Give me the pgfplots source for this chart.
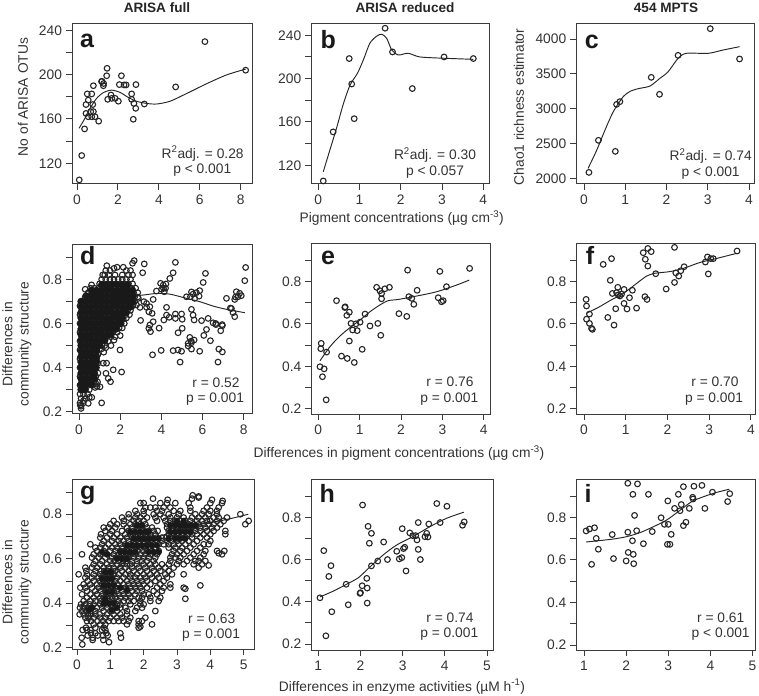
\documentclass[border=0pt]{standalone}
\usepackage{fontspec}
\setmainfont{Liberation Sans}
\usepackage{pgfplots}
\pgfplotsset{compat=1.18}
\definecolor{axc}{HTML}{3C3C3C}
\definecolor{txc}{HTML}{333333}
\definecolor{ptc}{HTML}{262626}
\pgfplotsset{panel/.style={scale only axis,anchor=south west,clip=false,
  axis line style={color=axc,line width=1pt},tick align=outside,tick pos=left,
  major tick length=6pt,tick style={color=axc,line width=.9pt},
  every tick label/.append style={font=\fontsize{13.8}{16}\selectfont,text=txc},
  xticklabel style={yshift=-1.5pt},yticklabel style={xshift=-.5pt},
 },
 yfrac/.style={ytick={.2,.3,.4,.5,.6,.7,.8,.9},yticklabels={0.2,,0.4,,0.6,,0.8,}},
 pts/.style={only marks,mark=o,mark size=2.85pt,mark options={draw=ptc,line width=1.1pt,fill=none,solid}},
 core/.style={only marks,mark=*,mark size=3.5pt,mark options={draw=black!90,fill=black!90,line width=.3pt,solid}},
 fit/.style={no markers,smooth,tension=.45,color=ptc,line width=.95pt}}
\newcommand\T[3]{\node[font=\fontsize{13.8}{16}\selectfont,text=txc,inner sep=0pt] at (#1pt,695pt-#2pt) {#3};}
\newcommand\Tr[3]{\node[font=\fontsize{13.8}{16}\selectfont,text=txc,inner sep=0pt,rotate=90] at (#1pt,695pt-#2pt) {#3};}
\newcommand\B[3]{\node[font=\fontsize{13.6}{16}\selectfont\bfseries,text=black!85,inner sep=0pt] at (#1pt,695pt-#2pt) {#3};}
\newcommand\Lt[3]{\node[font=\fontsize{25}{28}\selectfont\bfseries,text=black!90,inner sep=0pt,anchor=base] at (#1pt,695pt-#2pt) {#3};}
\begin{document}
\begin{tikzpicture}[x=1pt,y=1pt]
\useasboundingbox (0,0) rectangle (759,695);
% a
\begin{axis}[panel,at={(72pt,511pt)},width=180pt,height=160pt,xmin=-.244,xmax=8.55,ymin=101.3,ymax=245.7,
 xtick={0,2,4,6,8},xticklabels={0,2,4,6,8},ytick={120,140,160,180,200,220,240},yticklabels={120,,160,,200,,240}]
\addplot[pts] coordinates {(.11,105)(.23,127)(.37,151)(.5,182.6)(.72,182.6)(.8,190)(.44,173)(.55,177)(.77,173)(.44,165)(.55,162)(.67,166.6)(.8,166.6)(.72,162)(.88,162)(1.06,158)(1.2,193.7)(1.29,190)(1.22,194)(1.3,192)(1.45,199)(1.47,205.7)(1.5,177.7)(1.66,181.6)(1.7,178.6)(1.86,178.6)(2.02,176)(2.07,191)(2.17,199)(2.3,190.7)(2.4,190.7)(2.67,182.6)(2.67,177.7)(2.78,174)(2.87,169.6)(2.75,159.7)(2.88,191)(3.29,173.5)(4.82,188.9)(6.25,229.8)(8.24,204)};
\addplot[fit] coordinates {(.1,151.6)(.34,159)(.64,169.6)(.96,178.6)(1.29,183.8)(1.69,186)(2.1,184)(2.5,179.5)(2.9,176)(3.4,174)(3.9,173.5)(4.55,176)(5.36,183)(6.3,191.5)(7.3,199.7)(8.24,205)};
\end{axis}
% b
\begin{axis}[panel,at={(311.3pt,511pt)},width=177.7pt,height=160pt,xmin=-.17,xmax=4.14,ymin=102.7,ymax=250.4,
 xtick={0,1,2,3,4},xticklabels={0,1,2,3,4},ytick={120,140,160,180,200,220,240},yticklabels={120,,160,,200,,240}]
\addplot[pts] coordinates {(.12,105.5)(.36,150.8)(.75,218.5)(.81,195)(.87,163)(1.62,246.5)(1.8,224.6)(2.28,190.8)(3.05,220)(3.76,218.5)};
\addplot[fit] coordinates {(.12,114)(.28,134)(.44,154)(.61,177)(.77,194)(.95,205)(1.09,217)(1.25,232.6)(1.41,239)(1.54,241)(1.66,237)(1.78,226.5)(1.94,221.8)(2.18,223.4)(2.46,220)(3.03,218.8)(3.76,217.8)};
\end{axis}
% c
\begin{axis}[panel,at={(576.3pt,511pt)},width=177.7pt,height=160pt,xmin=-.186,xmax=4.12,ymin=1924,ymax=4215,
 xtick={0,1,2,3,4},xticklabels={0,1,2,3,4},ytick={2000,2500,3000,3500,4000},yticklabels={2000,2500,3000,3500,4000}]
\addplot[pts] coordinates {(.12,2090)(.35,2549)(.76,2391)(.79,3064)(.87,3103)(1.63,3451)(1.83,3208)(2.28,3766)(3.06,4148)(3.77,3714)};
\addplot[fit] coordinates {(.1,2148)(.31,2410)(.51,2697)(.71,2959)(.95,3174)(1.15,3260)(1.35,3293)(1.6,3327)(1.84,3437)(2.04,3532)(2.28,3723)(2.48,3795)(3.01,3795)(3.37,3842)(3.77,3890)};
\end{axis}
% d
\begin{axis}[panel,yfrac,at={(72pt,281.3pt)},width=180pt,height=169.4pt,xmin=-.34,xmax=8.4,ymin=.191,ymax=.959,
 xtick={0,2,4,6,8},xticklabels={0,2,4,6,8}]
\addplot[pts] coordinates {
(.1,.215)(.06,.23)(.1,.225)
(.05,.24)(.2,.24)(.45,.238)(.22,.25)(1.1,.24)
(.1,.26)(.3,.26)(.5,.265)(.62,.265)
(.05,.28)(.22,.28)(.42,.28)
(.13,.30)(.3,.30)(.5,.30)(.78,.31)(.88,.315)(1.02,.313)
(.05,.32)(.25,.32)(.45,.32)(.65,.32)(.85,.325)
(.15,.34)(.35,.34)(.55,.34)(.75,.34)(.9,.335)(1.53,.336)
(.05,.36)(.25,.36)(.45,.36)(.65,.36)(.82,.36)(1.42,.351)
(.15,.38)(.35,.38)(.55,.38)(.72,.38)(.92,.375)(1.31,.374)(2.07,.38)(1.66,.39)
(.05,.40)(.25,.40)(.45,.40)(.65,.40)(.85,.40)
(.15,.42)(.35,.42)(.55,.42)(.75,.42)(.92,.42)(1.18,.42)(1.34,.42)
(.05,.44)(.25,.44)(.45,.44)(.65,.44)(.85,.44)
(.15,.46)(.35,.46)(.55,.46)(.75,.46)(.92,.46)(1.2,.47)
(.05,.48)(.25,.48)(.45,.48)(.65,.48)(.85,.48)(1.1,.485)(1.3,.49)(1.99,.48)
(.15,.50)(.35,.50)(.55,.50)(.75,.50)(.95,.50)(1.12,.50)(1.25,.50)(1.55,.50)
(.05,.52)(.25,.52)(.45,.52)(.65,.52)(.85,.52)(1.05,.52)(1.25,.52)(1.42,.52)(1.7,.525)
(.15,.54)(.35,.54)(.55,.54)(.75,.54)(.95,.54)(1.15,.54)(1.35,.54)(1.55,.54)(1.75,.54)(2.0,.545)
(.05,.56)(.25,.56)(.45,.56)(.65,.56)(.85,.56)(1.05,.56)(1.25,.56)(1.45,.56)(1.65,.56)(1.85,.56)
(.15,.58)(.35,.58)(.55,.58)(.75,.58)(.95,.58)(1.15,.58)(1.35,.58)(1.55,.58)(1.75,.58)(1.95,.58)(2.1,.58)
(.05,.60)(.25,.60)(.45,.60)(.65,.60)(.85,.60)(1.05,.60)(1.25,.60)(1.45,.60)(1.65,.60)(1.85,.60)(2.05,.60)(2.2,.60)
(.15,.62)(.35,.62)(.55,.62)(.75,.62)(.95,.62)(1.15,.62)(1.35,.62)(1.55,.62)(1.75,.62)(1.95,.62)(2.15,.62)(2.3,.625)
(.05,.64)(.25,.64)(.45,.64)(.65,.64)(.85,.64)(1.05,.64)(1.25,.64)(1.45,.64)(1.65,.64)(1.85,.64)(2.05,.64)(2.25,.64)(2.45,.64)
(.15,.66)(.35,.66)(.55,.66)(.75,.66)(.95,.66)(1.15,.66)(1.35,.66)(1.55,.66)(1.75,.66)(1.95,.66)(2.15,.66)(2.35,.66)(2.5,.66)
(.05,.68)(.25,.68)(.45,.68)(.65,.68)(.85,.68)(1.05,.68)(1.25,.68)(1.45,.68)(1.65,.68)(1.85,.68)(2.05,.68)(2.25,.68)(2.45,.68)(2.6,.68)
(.15,.70)(.35,.70)(.55,.70)(.75,.70)(.95,.70)(1.15,.70)(1.35,.70)(1.55,.70)(1.75,.70)(1.95,.70)(2.15,.70)(2.35,.70)(2.55,.70)(2.7,.70)
(.3,.72)(.5,.72)(.7,.72)(.9,.72)(1.1,.72)(1.3,.72)(1.5,.72)(1.7,.72)(1.9,.72)(2.1,.72)(2.3,.72)(2.5,.72)(2.7,.72)(2.85,.72)
(.3,.755)(.45,.74)(.65,.74)(.85,.74)(1.05,.74)(1.25,.74)(1.45,.74)(1.65,.74)(1.85,.74)(2.05,.74)(2.25,.74)(2.45,.74)(2.65,.74)(2.85,.74)
(.55,.76)(.75,.76)(.95,.76)(1.15,.76)(1.35,.76)(1.55,.76)(1.75,.76)(1.95,.76)(2.15,.76)(2.35,.76)(2.55,.76)(2.75,.76)(.61,.775)
(1.0,.78)(1.2,.78)(1.4,.78)(1.6,.78)(1.8,.78)(2.0,.78)(2.2,.78)(2.4,.78)(2.6,.78)
(1.1,.80)(1.3,.80)(1.5,.80)(1.7,.80)(1.9,.80)(2.1,.80)(2.3,.80)(2.5,.80)
(1.15,.82)(1.25,.82)(1.45,.82)(1.75,.82)(2.1,.82)(2.4,.82)(2.6,.82)
(1.3,.84)(1.5,.84)(1.7,.85)(1.85,.855)(2.15,.855)(2.3,.84)(2.5,.84)(1.35,.862)(2.68,.885)(2.6,.873)
(3.17,.87)(3.09,.83)(4.68,.877)(4.57,.83)(4.41,.804)(4.22,.779)(3.96,.782)(4.09,.774)(4.14,.744)(4.01,.755)(3.76,.747)(3.6,.709)
(8.05,.794)(8.09,.854)(6.14,.827)(6.03,.786)(5.46,.743)(5.7,.74)(5.86,.749)(5.83,.724)(5.62,.714)(5.22,.721)(5.41,.721)(5.54,.733)(5.46,.664)(5.54,.638)(5.59,.616)(5.95,.613)(6.27,.623)(6.51,.603)(6.64,.6)(6.96,.59)(6.88,.567)(6.19,.573)(6.06,.546)(6.38,.522)(6.79,.484)(6.96,.471)(6.75,.425)(5.86,.474)(5.38,.537)(5.59,.525)(5.46,.513)(5.3,.498)(5.46,.484)(4.98,.474)(4.81,.48)(4.57,.477)(3.99,.478)(3.57,.458)(4.91,.425)(5.01,.578)(4.81,.558)(4.25,.673)(4.25,.638)(4.12,.616)(4.38,.628)(4.68,.643)(4.68,.623)(4.98,.643)(5.01,.619)(3.89,.579)(3.6,.608)(3.44,.593)(3.39,.578)(3.47,.563)(2.99,.614)(3.39,.653)(3.55,.646)(3.44,.676)(3.28,.691)(3.15,.699)(3.28,.673)(2.96,.673)(2.88,.714)(2.63,.684)(2.79,.684)(7.56,.709)(7.16,.714)(7.64,.744)(7.8,.737)(7.88,.726)(7.72,.721)(7.4,.668)(7.48,.649)(7.56,.631)(7.35,.67)(7.6,.72)(4.1,.76)(4.2,.76)(6.95,.595)(6.65,.595)(5.3,.51)(5.45,.52)};
\addplot[core] coordinates {
(.1,.30)(.3,.30)
(.1,.325)(.35,.325)(.6,.325)
(.1,.35)(.35,.35)(.6,.35)(.75,.35)
(.1,.375)(.35,.375)(.6,.375)(.75,.375)
(.1,.40)(.35,.40)(.6,.40)(.8,.40)
(.1,.425)(.35,.425)(.6,.425)(.85,.425)
(.1,.45)(.35,.45)(.6,.45)(.85,.45)
(.1,.475)(.35,.475)(.6,.475)(.85,.475)
(.1,.50)(.35,.50)(.6,.50)(.85,.50)(1.0,.50)
(.1,.525)(.35,.525)(.6,.525)(.85,.525)(1.1,.525)(1.25,.525)
(.1,.55)(.35,.55)(.6,.55)(.85,.55)(1.1,.55)(1.35,.55)(1.55,.55)
(.1,.575)(.35,.575)(.6,.575)(.85,.575)(1.1,.575)(1.35,.575)(1.6,.575)(1.8,.575)
(.1,.60)(.35,.60)(.6,.60)(.85,.60)(1.1,.60)(1.35,.60)(1.6,.60)(1.85,.60)(2.0,.60)
(.1,.625)(.35,.625)(.6,.625)(.85,.625)(1.1,.625)(1.35,.625)(1.6,.625)(1.85,.625)(2.1,.625)
(.1,.65)(.35,.65)(.6,.65)(.85,.65)(1.1,.65)(1.35,.65)(1.6,.65)(1.85,.65)(2.1,.65)(2.3,.65)
(.1,.675)(.35,.675)(.6,.675)(.85,.675)(1.1,.675)(1.35,.675)(1.6,.675)(1.85,.675)(2.1,.675)(2.35,.675)(2.5,.675)
(.1,.70)(.35,.70)(.6,.70)(.85,.70)(1.1,.70)(1.35,.70)(1.6,.70)(1.85,.70)(2.1,.70)(2.35,.70)(2.6,.70)
(.35,.725)(.6,.725)(.85,.725)(1.1,.725)(1.35,.725)(1.6,.725)(1.85,.725)(2.1,.725)(2.35,.725)(2.6,.725)
(.6,.75)(.85,.75)(1.1,.75)(1.35,.75)(1.6,.75)(1.85,.75)(2.1,.75)(2.35,.75)(2.6,.75)
(1.1,.775)(1.35,.775)(1.6,.775)(1.85,.775)(2.1,.775)(2.35,.775)};
\addplot[fit] coordinates {(.05,.42)(.5,.53)(1,.63)(1.5,.68)(2,.71)(2.63,.724)(3.12,.729)(3.76,.736)(4.41,.733)(5.22,.714)(5.86,.699)(6.51,.679)(7.16,.664)(8.05,.649)};
\end{axis}
% e
\begin{axis}[panel,yfrac,at={(311.3pt,280.7pt)},width=179.4pt,height=170.3pt,xmin=-.17,xmax=4.17,ymin=.174,ymax=.976,
 xtick={0,1,2,3,4},xticklabels={0,1,2,3,4}]
\addplot[pts] coordinates {(.07,.508)(.06,.483)(.04,.398)(.14,.388)(.10,.351)(.19,.242)(.2,.467)(.44,.709)(.56,.448)(.7,.437)(.64,.677)(.65,.68)(.69,.64)(.75,.655)(.75,.519)(.79,.602)(.83,.571)(.87,.418)(.94,.568)(.91,.6)(1.01,.608)(1.06,.48)(1.13,.646)(1.25,.59)(1.44,.602)(1.41,.772)(1.49,.756)(1.53,.743)(1.53,.718)(1.51,.546)(1.61,.765)(1.72,.772)(1.95,.648)(2.14,.635)(2.16,.853)(2.19,.728)(2.26,.72)(2.31,.692)(2.39,.758)(2.9,.723)(2.94,.847)(2.98,.704)(3.02,.709)(3.1,.775)(3.66,.861)};
\addplot[fit] coordinates {(.04,.426)(.28,.492)(.52,.542)(.77,.583)(1.01,.618)(1.25,.657)(1.49,.689)(1.69,.709)(1.94,.715)(2.38,.731)(2.86,.751)(3.35,.783)(3.65,.806)};
\end{axis}
% f
\begin{axis}[panel,yfrac,at={(576.3pt,280.7pt)},width=178.7pt,height=170.3pt,xmin=-.185,xmax=4.10,ymin=.174,ymax=.976,
 xtick={0,1,2,3,4},xticklabels={0,1,2,3,4}]
\addplot[pts] coordinates {(.05,.715)(.06,.684)(.13,.646)(.06,.622)(.13,.602)(.18,.579)(.2,.574)(.46,.88)(.66,.907)(.57,.63)(.72,.594)(.63,.805)(.68,.743)(.76,.671)(.78,.747)(.81,.772)(.82,.736)(.86,.731)(.9,.74)(.96,.762)(.96,.696)(1.03,.67)(1.09,.723)(1.16,.758)(1.26,.674)(1.42,.935)(1.47,.904)(1.46,.728)(1.51,.715)(1.53,.872)(1.53,.955)(1.61,.94)(1.72,.836)(1.97,.764)(2.17,.795)(2.17,.96)(2.2,.84)(2.27,.825)(2.32,.85)(2.4,.869)(2.91,.891)(2.96,.915)(2.98,.835)(3.04,.907)(3.1,.907)(3.67,.943)};
\addplot[fit] coordinates {(.05,.649)(.34,.677)(.62,.709)(.94,.743)(1.26,.79)(1.5,.825)(1.7,.838)(2.06,.846)(2.38,.861)(2.78,.889)(3.18,.908)(3.66,.932)};
\end{axis}
% g
\begin{axis}[panel,yfrac,at={(72pt,45.7pt)},width=182pt,height=170pt,xmin=-.15,xmax=5.31,ymin=.193,ymax=.957,
 xtick={0,1,2,3,4,5},xticklabels={0,1,2,3,4,5}]
\addplot[pts] coordinates {
(.16,.215)(.96,.225)(.79,.235)(.47,.235)(.14,.245)(.47,.245)(1.32,.245)
(.32,.255)(.62,.255)(.78,.255)(.92,.255)(.42,.265)(.55,.265)(.88,.265)(1.3,.265)
(.17,.28)(.3,.28)(.4,.28)(.75,.28)(.85,.28)(.27,.29)(.55,.29)(.8,.29)
(.5,.305)(.7,.305)(.85,.305)(1.5,.305)(1.85,.305)(2.25,.305)(1.9,.295)(1.85,.29)
(.3,.32)(.42,.32)(.62,.32)(.78,.32)(.95,.32)(1.1,.32)(1.25,.32)(1.4,.32)(1.55,.32)(1.85,.32)(1.95,.32)
(.25,.335)(.35,.335)(.5,.335)(.7,.335)(.85,.335)(1.0,.335)(1.2,.335)(1.35,.335)(1.6,.335)(2.05,.335)
(.08,.35)(.2,.35)(.33,.35)(.42,.35)(.55,.35)(.68,.35)(.9,.35)(1.1,.35)(1.3,.35)(1.5,.35)
(.15,.365)(.28,.365)(.4,.365)(.55,.365)(.8,.365)(1.0,.365)(1.05,.365)(1.2,.365)(1.5,.365)(1.75,.365)(2.35,.365)
(.09,.38)(.2,.38)(.32,.38)(.45,.38)(.6,.38)(.75,.38)(.9,.38)(1.05,.38)(1.15,.38)(1.3,.38)(1.45,.38)(1.8,.38)(1.95,.38)
(.12,.395)(.25,.395)(.38,.395)(.5,.395)(.7,.395)(.8,.395)(.9,.395)(1.05,.395)(1.2,.395)(1.3,.395)(1.6,.395)(1.9,.395)(2.0,.395)
(.2,.41)(.4,.41)(.55,.41)(.72,.41)(.85,.41)(.95,.41)(1.1,.41)(1.25,.41)(1.4,.41)(1.55,.41)(1.7,.41)(1.9,.41)(2.2,.41)(2.45,.41)
(.3,.425)(.5,.425)(.7,.425)(.8,.425)(.92,.425)(1.05,.425)(1.15,.425)(1.3,.425)(1.45,.425)(1.6,.425)(1.85,.425)(1.95,.425)(2.2,.425)(2.5,.425)(3.25,.42)
(.15,.44)(.4,.44)(.6,.44)(.75,.44)(.88,.44)(1.0,.44)(1.12,.44)(1.25,.44)(1.4,.44)(1.55,.44)(1.75,.44)(2.0,.44)(2.15,.44)(2.4,.44)
(.3,.455)(.55,.455)(.72,.455)(.85,.455)(1.0,.455)(1.1,.455)(1.2,.455)(1.35,.455)(1.5,.455)(1.65,.455)(1.8,.455)(1.95,.455)(2.3,.455)(2.55,.455)
(.1,.47)(.25,.47)(.45,.47)(.65,.47)(.8,.47)(.9,.47)(1.05,.47)(1.15,.47)(1.3,.47)(1.45,.47)(1.6,.47)(1.75,.47)(1.9,.47)(2.1,.47)(2.4,.47)(2.6,.47)(2.8,.47)(3.2,.47)(3.25,.465)
(.2,.485)(.4,.485)(.6,.485)(.75,.485)(.85,.485)(.98,.485)(1.1,.485)(1.22,.485)(1.4,.485)(1.55,.485)(1.7,.485)(1.85,.485)(2.0,.485)(2.2,.485)(2.5,.485)(2.8,.485)(3.7,.48)
(.32,.50)(.5,.50)(.68,.50)(.8,.50)(.9,.50)(1.0,.50)(1.15,.50)(1.3,.50)(1.5,.50)(1.65,.50)(1.8,.50)(1.95,.50)(2.1,.50)(2.35,.50)(2.6,.50)
(.25,.515)(.45,.515)(.65,.515)(.75,.515)(.85,.515)(.95,.515)(1.05,.515)(1.2,.515)(1.4,.515)(1.6,.515)(1.75,.515)(1.9,.515)(2.05,.515)(2.25,.515)(2.45,.515)(2.7,.515)
(.05,.53)(.3,.53)(.5,.53)(.7,.53)(.8,.53)(.9,.53)(1.0,.53)(1.1,.53)(1.25,.53)(1.45,.53)(1.6,.53)(1.8,.53)(2.0,.53)(2.2,.53)(2.4,.53)(2.65,.53)(2.85,.53)(3.2,.53)
(.28,.545)(.55,.545)(.72,.545)(.82,.545)(.92,.545)(1.02,.545)(1.15,.545)(1.35,.545)(1.55,.545)(1.7,.545)(1.9,.545)(2.1,.545)(2.3,.545)(2.5,.545)(2.75,.545)
(.25,.56)(.45,.56)(.6,.56)(.8,.56)(.95,.56)(1.1,.56)(1.3,.56)(1.45,.56)(1.65,.56)(1.85,.56)(2.05,.56)(2.25,.56)(2.45,.56)(2.65,.56)(2.9,.56)(3.65,.56)(3.95,.57)
(.5,.575)(.7,.575)(.9,.575)(1.05,.575)(1.2,.575)(1.35,.575)(1.5,.575)(1.6,.575)(1.8,.575)(2.0,.575)(2.2,.575)(2.35,.575)(2.55,.575)(2.75,.575)(3.0,.575)(3.2,.575)(3.5,.575)(3.75,.575)
(.55,.59)(.75,.59)(1.0,.59)(1.12,.59)(1.25,.59)(1.38,.59)(1.5,.59)(1.65,.59)(1.8,.59)(1.95,.59)(2.1,.59)(2.3,.59)(2.8,.59)(3.05,.59)(3.3,.59)(3.55,.59)(3.65,.59)(3.85,.59)
(.45,.605)(.65,.605)(.85,.605)(1.05,.605)(1.18,.605)(1.3,.605)(1.42,.605)(1.55,.605)(1.7,.605)(1.85,.605)(2.0,.605)(2.15,.605)(2.35,.605)(2.8,.605)(2.95,.605)(3.1,.605)(3.4,.605)(3.7,.605)
(.15,.62)(.5,.62)(.7,.62)(.9,.62)(1.1,.62)(1.25,.62)(1.35,.62)(1.48,.62)(1.6,.62)(1.75,.62)(1.9,.62)(2.05,.62)(2.2,.62)(2.4,.62)(2.85,.62)(3.0,.62)(3.2,.62)(3.5,.62)(3.8,.62)(4.25,.625)(4.35,.62)
(.6,.635)(.8,.635)(1.0,.635)(1.15,.635)(1.3,.635)(1.42,.635)(1.55,.635)(1.7,.635)(1.82,.635)(1.98,.635)(2.1,.635)(2.25,.635)(2.45,.635)(2.9,.635)(3.1,.635)(3.3,.635)(3.6,.635)(3.85,.635)(4.2,.635)(4.42,.635)
(.55,.65)(.7,.65)(.85,.65)(1.05,.65)(1.2,.65)(1.35,.65)(1.5,.65)(1.65,.65)(1.78,.65)(1.92,.65)(2.05,.65)(2.2,.65)(2.35,.65)(2.75,.65)(2.95,.65)(3.15,.65)(3.4,.65)(3.7,.65)
(.4,.665)(.75,.665)(.95,.665)(1.15,.665)(1.3,.665)(1.45,.665)(1.6,.665)(1.75,.665)(1.88,.665)(2.0,.665)(2.15,.665)(2.3,.665)(2.45,.665)(2.6,.665)(2.75,.665)(2.9,.665)(3.05,.665)(3.25,.665)(3.5,.665)(3.8,.665)(3.95,.665)
(.8,.68)(1.05,.68)(1.25,.68)(1.4,.68)(1.55,.68)(1.7,.68)(1.85,.68)(2.0,.68)(2.12,.68)(2.25,.68)(2.4,.68)(2.55,.68)(2.7,.68)(2.85,.68)(3.0,.68)(3.15,.68)(3.35,.68)(3.6,.68)(4.0,.68)
(.7,.695)(.9,.695)(1.1,.695)(1.3,.695)(1.5,.695)(1.65,.695)(1.8,.695)(1.95,.695)(2.1,.695)(2.25,.695)(2.4,.695)(2.55,.695)(2.68,.695)(2.82,.695)(2.95,.695)(3.1,.695)(3.25,.695)(3.45,.695)(3.7,.695)(3.9,.695)
(.72,.71)(1.0,.71)(1.2,.71)(1.45,.71)(1.6,.71)(1.75,.71)(1.9,.71)(2.05,.71)(2.2,.71)(2.35,.71)(2.75,.71)(2.9,.71)(3.0,.71)(3.15,.71)(3.3,.71)(3.45,.71)(3.6,.71)(3.8,.71)(4.0,.71)(4.45,.71)
(.85,.725)(1.05,.725)(1.35,.725)(1.55,.725)(1.7,.725)(1.85,.725)(2.0,.725)(2.15,.725)(2.3,.725)(2.42,.725)(2.75,.725)(2.85,.725)(2.98,.725)(3.1,.725)(3.25,.725)(3.4,.725)(3.55,.725)(3.7,.725)(3.9,.725)(4.1,.725)(4.45,.725)
(.8,.74)(.95,.74)(1.15,.74)(1.5,.74)(1.65,.74)(1.8,.74)(1.95,.74)(2.1,.74)(2.25,.74)(2.7,.74)(2.85,.74)(3.0,.74)(3.12,.74)(3.25,.74)(3.4,.74)(3.55,.74)(3.7,.74)(3.85,.74)(4.05,.74)(4.2,.74)
(1.0,.755)(1.2,.755)(1.4,.755)(1.6,.755)(1.75,.755)(1.9,.755)(2.05,.755)(2.7,.755)(2.85,.755)(2.95,.755)(3.08,.755)(3.2,.755)(3.35,.755)(3.5,.755)(3.65,.755)(3.8,.755)(3.95,.755)(4.1,.755)(4.3,.755)(5.05,.755)
(1.1,.77)(1.4,.77)(1.7,.77)(1.85,.77)(2.0,.77)(2.4,.77)(2.65,.77)(2.8,.77)(2.95,.77)(3.1,.77)(3.25,.77)(3.4,.77)(3.6,.77)(3.75,.77)(3.9,.77)(4.0,.77)(4.2,.77)(4.4,.77)(5.15,.77)
(1.35,.785)(1.55,.785)(1.75,.785)(1.9,.785)(2.1,.785)(2.35,.785)(2.6,.785)(2.8,.785)(3.0,.785)(3.2,.785)(3.45,.785)(3.65,.785)(3.85,.785)(4.1,.785)(4.25,.785)(4.5,.785)
(1.55,.80)(1.8,.80)(2.0,.80)(2.3,.80)(2.5,.80)(2.75,.80)(3.05,.80)(3.55,.80)(3.75,.80)(3.95,.80)(4.2,.80)(4.9,.80)
(1.75,.815)(2.0,.815)(2.4,.815)(2.55,.815)(2.9,.815)(3.1,.815)(3.4,.815)(3.8,.815)(4.0,.815)(4.2,.815)
(2.05,.83)(2.2,.83)(2.35,.83)(2.6,.83)(2.8,.83)(3.4,.83)(3.9,.83)(4.25,.83)
(1.9,.85)(2.0,.85)(2.5,.85)(2.7,.85)(2.95,.85)(3.35,.85)(4.0,.85)(4.35,.85)
(2.28,.87)(2.72,.865)(3.45,.87)(4.05,.865)(4.37,.86)(3.65,.875)(3.47,.885)(3.65,.88)};
\addplot[core,mark size=3pt] coordinates {
(.8,.48)(.95,.48)(1.1,.48)(.75,.51)(.9,.51)(1.05,.51)(.85,.54)(1.0,.54)(.9,.45)(1.05,.45)
(.8,.4)(.95,.4)(1.1,.4)(1.2,.38)(1.05,.37)(.85,.42)(.35,.37)(.45,.38)(1.3,.47)(1.5,.46)
(1.2,.6)(1.35,.6)(1.5,.6)(1.3,.63)(1.45,.63)(1.6,.63)(1.75,.63)(1.5,.66)(1.65,.66)(1.8,.66)(.75,.63)(.9,.62)
(1.6,.72)(1.75,.72)(1.9,.72)(2.05,.72)(1.8,.75)(1.95,.75)(1.7,.69)(1.85,.69)(2.0,.69)(2.15,.69)(2.3,.69)(2.45,.69)(2.1,.66)(2.25,.66)(2.4,.66)(1.95,.66)(2.15,.72)(2.3,.63)(2.15,.63)(2.45,.63)
(2.8,.72)(2.95,.72)(3.1,.72)(3.25,.72)(3.4,.72)(2.8,.75)(2.95,.75)(3.1,.75)(3.25,.75)(3.4,.75)(3.55,.75)(2.95,.69)(3.1,.69)(3.25,.69)(2.75,.69)(3.0,.77)(3.2,.77)};
\addplot[fit] coordinates {(.1,.39)(.5,.44)(1,.52)(1.5,.6)(2,.66)(2.5,.7)(3,.73)(3.5,.75)(4.1,.765)(4.6,.78)(5.14,.8)};
\end{axis}
% h
\begin{axis}[panel,yfrac,at={(311.3pt,45pt)},width=182pt,height=171pt,xmin=.834,xmax=5.15,ymin=.172,ymax=.981,
 xtick={1,2,3,4,5},xticklabels={1,2,3,4,5}]
\addplot[pts] coordinates {(1.04,.419)(1.18,.239)(1.13,.642)(1.25,.52)(1.3,.571)(1.32,.353)(1.66,.483)(1.71,.386)(1.99,.44)(2.0,.443)(2.04,.476)(2.05,.858)(2.15,.511)(2.16,.465)(2.16,.394)(2.18,.757)(2.21,.677)(2.26,.724)(2.26,.57)(2.41,.593)(2.55,.683)(2.64,.6)(2.86,.639)(2.92,.603)(2.98,.609)(2.99,.746)(3.02,.652)(3.05,.658)(3.08,.546)(3.17,.726)(3.24,.713)(3.31,.713)(3.34,.693)(3.37,.775)(3.37,.648)(3.42,.6)(3.53,.708)(3.57,.724)(3.6,.707)(3.62,.768)(3.81,.865)(3.89,.775)(4.05,.852)(4.42,.762)(4.46,.778)};
\addplot[fit] coordinates {(1.04,.423)(1.36,.451)(1.67,.483)(1.95,.514)(2.23,.566)(2.54,.622)(2.86,.669)(3.25,.709)(3.65,.756)(4.04,.795)(4.45,.824)};
\end{axis}
% i
\begin{axis}[panel,yfrac,at={(576.3pt,45pt)},width=178.7pt,height=171pt,xmin=.817,xmax=5.06,ymin=.1765,ymax=.98,
 xtick={1,2,3,4,5},xticklabels={1,2,3,4,5}]
\addplot[pts] coordinates {(1.05,.736)(1.13,.745)(1.25,.751)(1.29,.701)(1.34,.65)(1.18,.579)(1.67,.719)(1.7,.606)(2.04,.96)(2.27,.957)(2.16,.908)(2.53,.908)(2.04,.73)(2.0,.595)(2.05,.635)(2.15,.69)(2.17,.626)(2.18,.582)(2.2,.809)(2.25,.737)(2.41,.676)(2.62,.733)(2.83,.798)(2.91,.767)(2.98,.673)(3.0,.767)(2.99,.877)(3.04,.673)(3.07,.72)(3.15,.842)(3.24,.908)(3.28,.831)(3.31,.86)(3.36,.944)(3.36,.761)(3.42,.777)(3.5,.842)(3.58,.894)(3.59,.886)(3.61,.946)(3.8,.95)(3.87,.842)(4.05,.918)(4.41,.874)(4.46,.911)};
\addplot[fit] coordinates {(1.05,.684)(1.34,.69)(1.7,.698)(2.01,.709)(2.33,.728)(2.65,.756)(2.96,.787)(3.24,.827)(3.56,.874)(3.84,.897)(4.15,.917)(4.45,.932)};
\end{axis}
% titles
\B{157}{8}{ARISA full}\B{405}{8}{ARISA reduced}\B{666}{8}{454 MPTS}
% axis labels
\Tr{23}{97}{No of ARISA OTUs}\Tr{519}{107}{Chao1 richness estimator}
\Tr{7.5}{344}{Differences in}\Tr{25}{344}{community structure}
\Tr{7.5}{582}{Differences in}\Tr{25}{582}{community structure}
\T{401.7}{218}{Pigment concentrations (µg cm\textsuperscript{-3})}
\T{399}{452.7}{Differences in pigment concentrations (µg cm\textsuperscript{-3})}
\T{402}{686.7}{Differences in enzyme activities (µM h\textsuperscript{-1})}
% annotations
\T{202.7}{153.5}{R\textsuperscript{2}adj. = 0.28}\T{202.3}{170}{p < 0.001}
\T{435}{155}{R\textsuperscript{2}adj. = 0.30}\T{435}{172}{p < 0.057}
\T{710.7}{156}{R\textsuperscript{2}adj. = 0.74}\T{710.7}{173}{p < 0.001}
\T{216}{382.7}{r = 0.52}\T{215}{399.3}{p = 0.001}
\T{450}{381.7}{r = 0.76}\T{449.3}{398.7}{p = 0.001}
\T{715}{381.7}{r = 0.70}\T{714}{398.7}{p = 0.001}
\T{211.7}{618.3}{r = 0.63}\T{211}{635}{p = 0.001}
\T{450}{617.7}{r = 0.74}\T{449.3}{634.3}{p = 0.001}
\T{720.7}{617.7}{r = 0.61}\T{720.7}{634.3}{p < 0.001}
% panel letters
\Lt{87}{48}{a}\Lt{328.3}{48.3}{b}\Lt{591.7}{48.3}{c}
\Lt{87.7}{265}{d}\Lt{328}{265}{e}\Lt{590}{265}{f}
\Lt{87.7}{500}{g}\Lt{327.3}{503}{h}\Lt{588}{503}{i}
\end{tikzpicture}
\end{document}
